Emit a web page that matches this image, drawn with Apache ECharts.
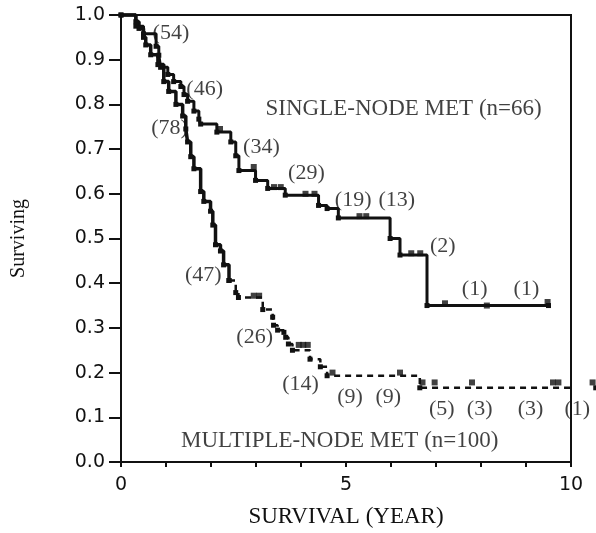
<!DOCTYPE html>
<html>
<head>
<meta charset="utf-8">
<script src="https://cdn.jsdelivr.net/npm/echarts@6/dist/echarts.min.js"></script>
<style>
  html, body { margin: 0; padding: 0; background: #fff; }
  #chart { width: 596px; height: 533px; }
</style>
</head>
<body>
<div id="chart"></div>
<script>
// survival steps: [year, surviving] -- value holds until the next point
const singleNode = [
  [0, 1.0], [0.33, 0.975], [0.5, 0.958], [0.78, 0.93], [0.84, 0.91], [0.88, 0.883],
  [1.04, 0.867], [1.17, 0.851], [1.33, 0.84], [1.4, 0.822], [1.48, 0.807], [1.62, 0.785],
  [1.73, 0.767], [1.77, 0.756], [2.13, 0.738], [2.44, 0.716], [2.55, 0.685], [2.62, 0.652],
  [2.99, 0.63], [3.26, 0.612], [3.65, 0.597], [4.39, 0.574], [4.58, 0.567], [4.83, 0.546],
  [5.98, 0.5], [6.2, 0.463], [6.8, 0.35], [9.5, 0.35]
];
const multiNode = [
  [0, 1.0], [0.33, 0.985], [0.4, 0.97], [0.5, 0.95], [0.55, 0.933], [0.66, 0.911],
  [0.82, 0.889], [0.95, 0.851], [1.06, 0.829], [1.22, 0.8], [1.37, 0.774], [1.44, 0.745],
  [1.48, 0.716], [1.55, 0.683], [1.62, 0.656], [1.77, 0.605], [1.84, 0.583], [1.99, 0.561],
  [2.04, 0.53], [2.1, 0.486], [2.21, 0.472], [2.28, 0.441], [2.4, 0.406], [2.55, 0.379],
  [2.61, 0.368], [3.15, 0.341], [3.37, 0.324], [3.39, 0.306], [3.48, 0.295], [3.62, 0.29],
  [3.66, 0.279], [3.72, 0.264], [3.81, 0.25], [4.2, 0.23], [4.43, 0.213], [4.58, 0.193],
  [6.64, 0.166], [10.55, 0.166]
];
// censored cases
const singleCensor = [
  [2.2, 0.745], [2.95, 0.66], [3.4, 0.615], [3.55, 0.615], [4.1, 0.6], [4.3, 0.6],
  [5.3, 0.55], [5.45, 0.55], [6.45, 0.467], [6.65, 0.467], [7.2, 0.355], [8.13, 0.35], [9.48, 0.358]
];
const multiCensor = [
  [2.95, 0.372], [3.07, 0.372], [3.95, 0.262], [4.05, 0.262], [4.15, 0.262],
  [4.7, 0.2], [6.2, 0.2], [6.7, 0.178], [6.97, 0.178], [7.8, 0.178],
  [9.6, 0.178], [9.72, 0.178], [10.48, 0.178]
];
// number at risk and group labels: [year, surviving, text]
const notes = [
  [1.11, 0.96, "(54)"], [1.86, 0.834, "(46)"], [1.08, 0.747, "(78)"],
  [3.12, 0.705, "(34)"], [4.12, 0.645, "(29)"], [5.16, 0.585, "(19)"],
  [6.13, 0.585, "(13)"], [7.15, 0.483, "(2)"], [7.86, 0.386, "(1)"], [9.01, 0.386, "(1)"],
  [1.83, 0.417, "(47)"], [2.97, 0.279, "(26)"], [3.99, 0.175, "(14)"],
  [5.09, 0.146, "(9)"], [5.94, 0.146, "(9)"], [7.13, 0.118, "(5)"], [7.97, 0.118, "(3)"],
  [9.1, 0.118, "(3)"], [10.14, 0.118, "(1)"]
];
const groupNotes = [
  [6.28, 0.789, "SINGLE-NODE MET (n=66)"],
  [4.86, 0.047, "MULTIPLE-NODE MET (n=100)"]
];

// multiple-node curve: solid while dense, dashed afterwards
const dashFrom = 2.4;
const multiSolid = multiNode.filter((d) => d[0] <= dashFrom);
const multiDashed = multiNode.filter((d) => d[0] >= dashFrom);

const chart = echarts.init(document.getElementById("chart"));
const serif = "'Liberation Serif', 'Times New Roman', serif";
const ink = "#111";

const stepLine = (data, width, type) => ({
  type: "line",
  step: "end",
  clip: false,
  data: data,
  symbol: "rect",
  symbolSize: 5,
  itemStyle: { color: ink },
  lineStyle: { color: ink, width: width, type: type },
});

const textLayer = (data, size) => ({
  type: "scatter",
  clip: false,
  symbolSize: 0,
  data: data,
  label: {
    show: true,
    position: "inside",
    formatter: (p) => p.data[2],
    fontFamily: serif,
    fontSize: size,
    color: ink,
  },
});

chart.setOption({
  animation: false,
  grid: {
    left: 121,
    right: 25,
    top: 15,
    bottom: 67,
    show: true,
    borderColor: ink,
    borderWidth: 2,
  },
  xAxis: {
    type: "value",
    min: 0,
    max: 10,
    interval: 1,
    name: "SURVIVAL (YEAR)",
    nameLocation: "middle",
    nameGap: 43,
    nameTextStyle: { fontFamily: serif, fontSize: 23, color: ink },
    axisLine: { lineStyle: { color: ink, width: 2 } },
    axisTick: { length: 5, lineStyle: { color: ink, width: 2 } },
    axisLabel: {
      margin: 14,
      fontFamily: "DejaVu Sans",
      fontSize: 19,
      color: ink,
      formatter: (v) => (v % 5 === 0 ? String(v) : ""),
    },
    splitLine: { show: false },
  },
  yAxis: {
    type: "value",
    min: 0,
    max: 1,
    interval: 0.1,
    name: "Surviving",
    nameLocation: "middle",
    nameGap: 92,
    nameTextStyle: { fontFamily: serif, fontSize: 20, color: ink },
    axisLine: { show: true, lineStyle: { color: ink, width: 2 } },
    axisTick: { show: true, length: 12, lineStyle: { color: ink, width: 2 } },
    axisLabel: {
      margin: 16,
      fontFamily: "DejaVu Sans",
      fontSize: 19,
      color: ink,
      formatter: (v) => v.toFixed(1),
    },
    splitLine: { show: false },
  },
  series: [
    stepLine(singleNode, 3, "solid"),
    stepLine(multiSolid, 3.5, "solid"),
    stepLine(multiDashed, 2.5, [6, 5]),
    {
      type: "scatter",
      clip: false,
      symbol: "rect",
      symbolSize: 6,
      itemStyle: { color: ink },
      data: singleCensor.concat(multiCensor),
    },
    textLayer(notes, 22),
    textLayer(groupNotes, 23),
  ],
});
</script>
</body>
</html>
